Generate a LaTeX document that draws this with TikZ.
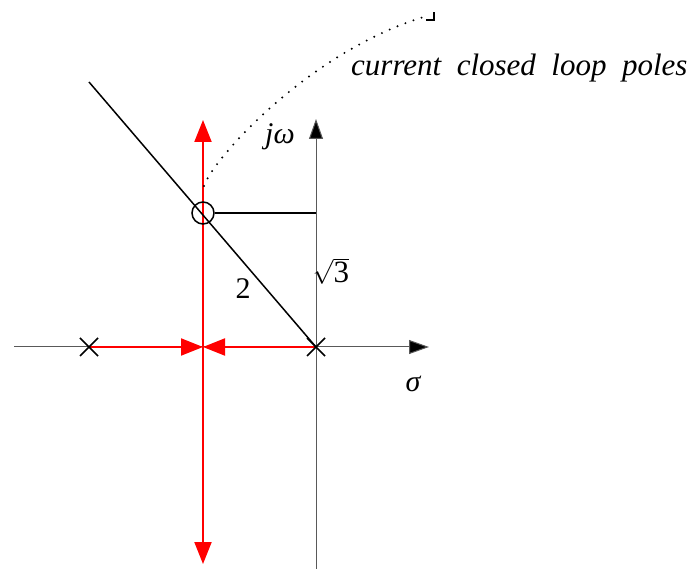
\documentclass[tikz,border=0pt]{standalone}
\usepackage{fontspec}
\setmainfont{Liberation Serif}
\usetikzlibrary{arrows.meta,calc}
\begin{document}
\begin{tikzpicture}[x=1pt,y=-1pt,
  axis/.style={draw=black!65,line width=1pt},
  axtip/.style={-{Triangle[length=20pt,width=14pt,fill=black]}},
  locus/.style={draw=red,line width=2pt},
  redtip/.style={-{Triangle[length=22pt,width=17pt,fill=red]}},
  blk/.style={draw=black,line width=1.5pt},
  lbl/.style={font=\fontsize{30}{33}\selectfont\itshape,inner sep=0pt},
  num/.style={font=\fontsize{30}{33}\selectfont,inner sep=0pt}]
\useasboundingbox (0,0) rectangle (694,569);
% coordinates
\coordinate (O) at (316,347);
\coordinate (P1) at (89,347);
\coordinate (B) at (203,347);
\coordinate (Ctop) at (203,120);
\coordinate (Cbot) at (203,564);
\coordinate (C) at (203,213);
\coordinate (Cr) at (316,213);
\coordinate (Lend) at (89,82);
\coordinate (Rl) at (14,347);
\coordinate (Rr) at (429,347);
\coordinate (Ib) at (316,569);
\coordinate (It) at (316,119);
% axes
\draw[axis,axtip] (Rl) -- (Rr);
\draw[axis,axtip] (Ib) -- (It);
% red locus
\draw[locus,redtip] (B) -- (Ctop);
\draw[locus,redtip] (B) -- (Cbot);
\draw[locus,redtip] (P1) -- (B);
\draw[locus,redtip] (O) -- (B);
% black lines
\draw[blk] (O) -- (Lend);
\node[draw,circle,line width=1.5pt,minimum size=22pt,inner sep=0pt] (cp) at (C) {};
\draw[blk] (cp.east) -- (Cr);
% pole crosses
\foreach \p in {P1,O}{
  \draw[blk] ($(\p)+(-9,-9)$) -- ($(\p)+(9,9)$);
  \draw[blk] ($(\p)+(-9,9)$) -- ($(\p)+(9,-9)$);
}
% labels
\node[lbl] (jw) at (280,137) {jω};
\node[lbl] (sg) at (413,384) {σ};
\node[num] (two) at (243,289) {2};
\node[inner sep=0pt,font=\fontsize{31}{34}\selectfont] (s3) at (331,271) {$\sqrt{\hbox{3}}$};
\node[lbl,anchor=west,font=\fontsize{31}{34}\selectfont\itshape] (cur) at (351,68) {current\ \ closed\ \ loop\ \ poles};
% dotted curve
\coordinate (d0) at (204,186);
\coordinate (d1) at (427,16);
\draw[line width=2.2pt,line cap=round,dash pattern=on 0pt off 8.5pt] (d0) .. controls (212,160) and (310,50) .. (d1);
\draw[line width=1.2pt] (426,20) -- (434,20) -- (434,12);
\end{tikzpicture}
\end{document}
